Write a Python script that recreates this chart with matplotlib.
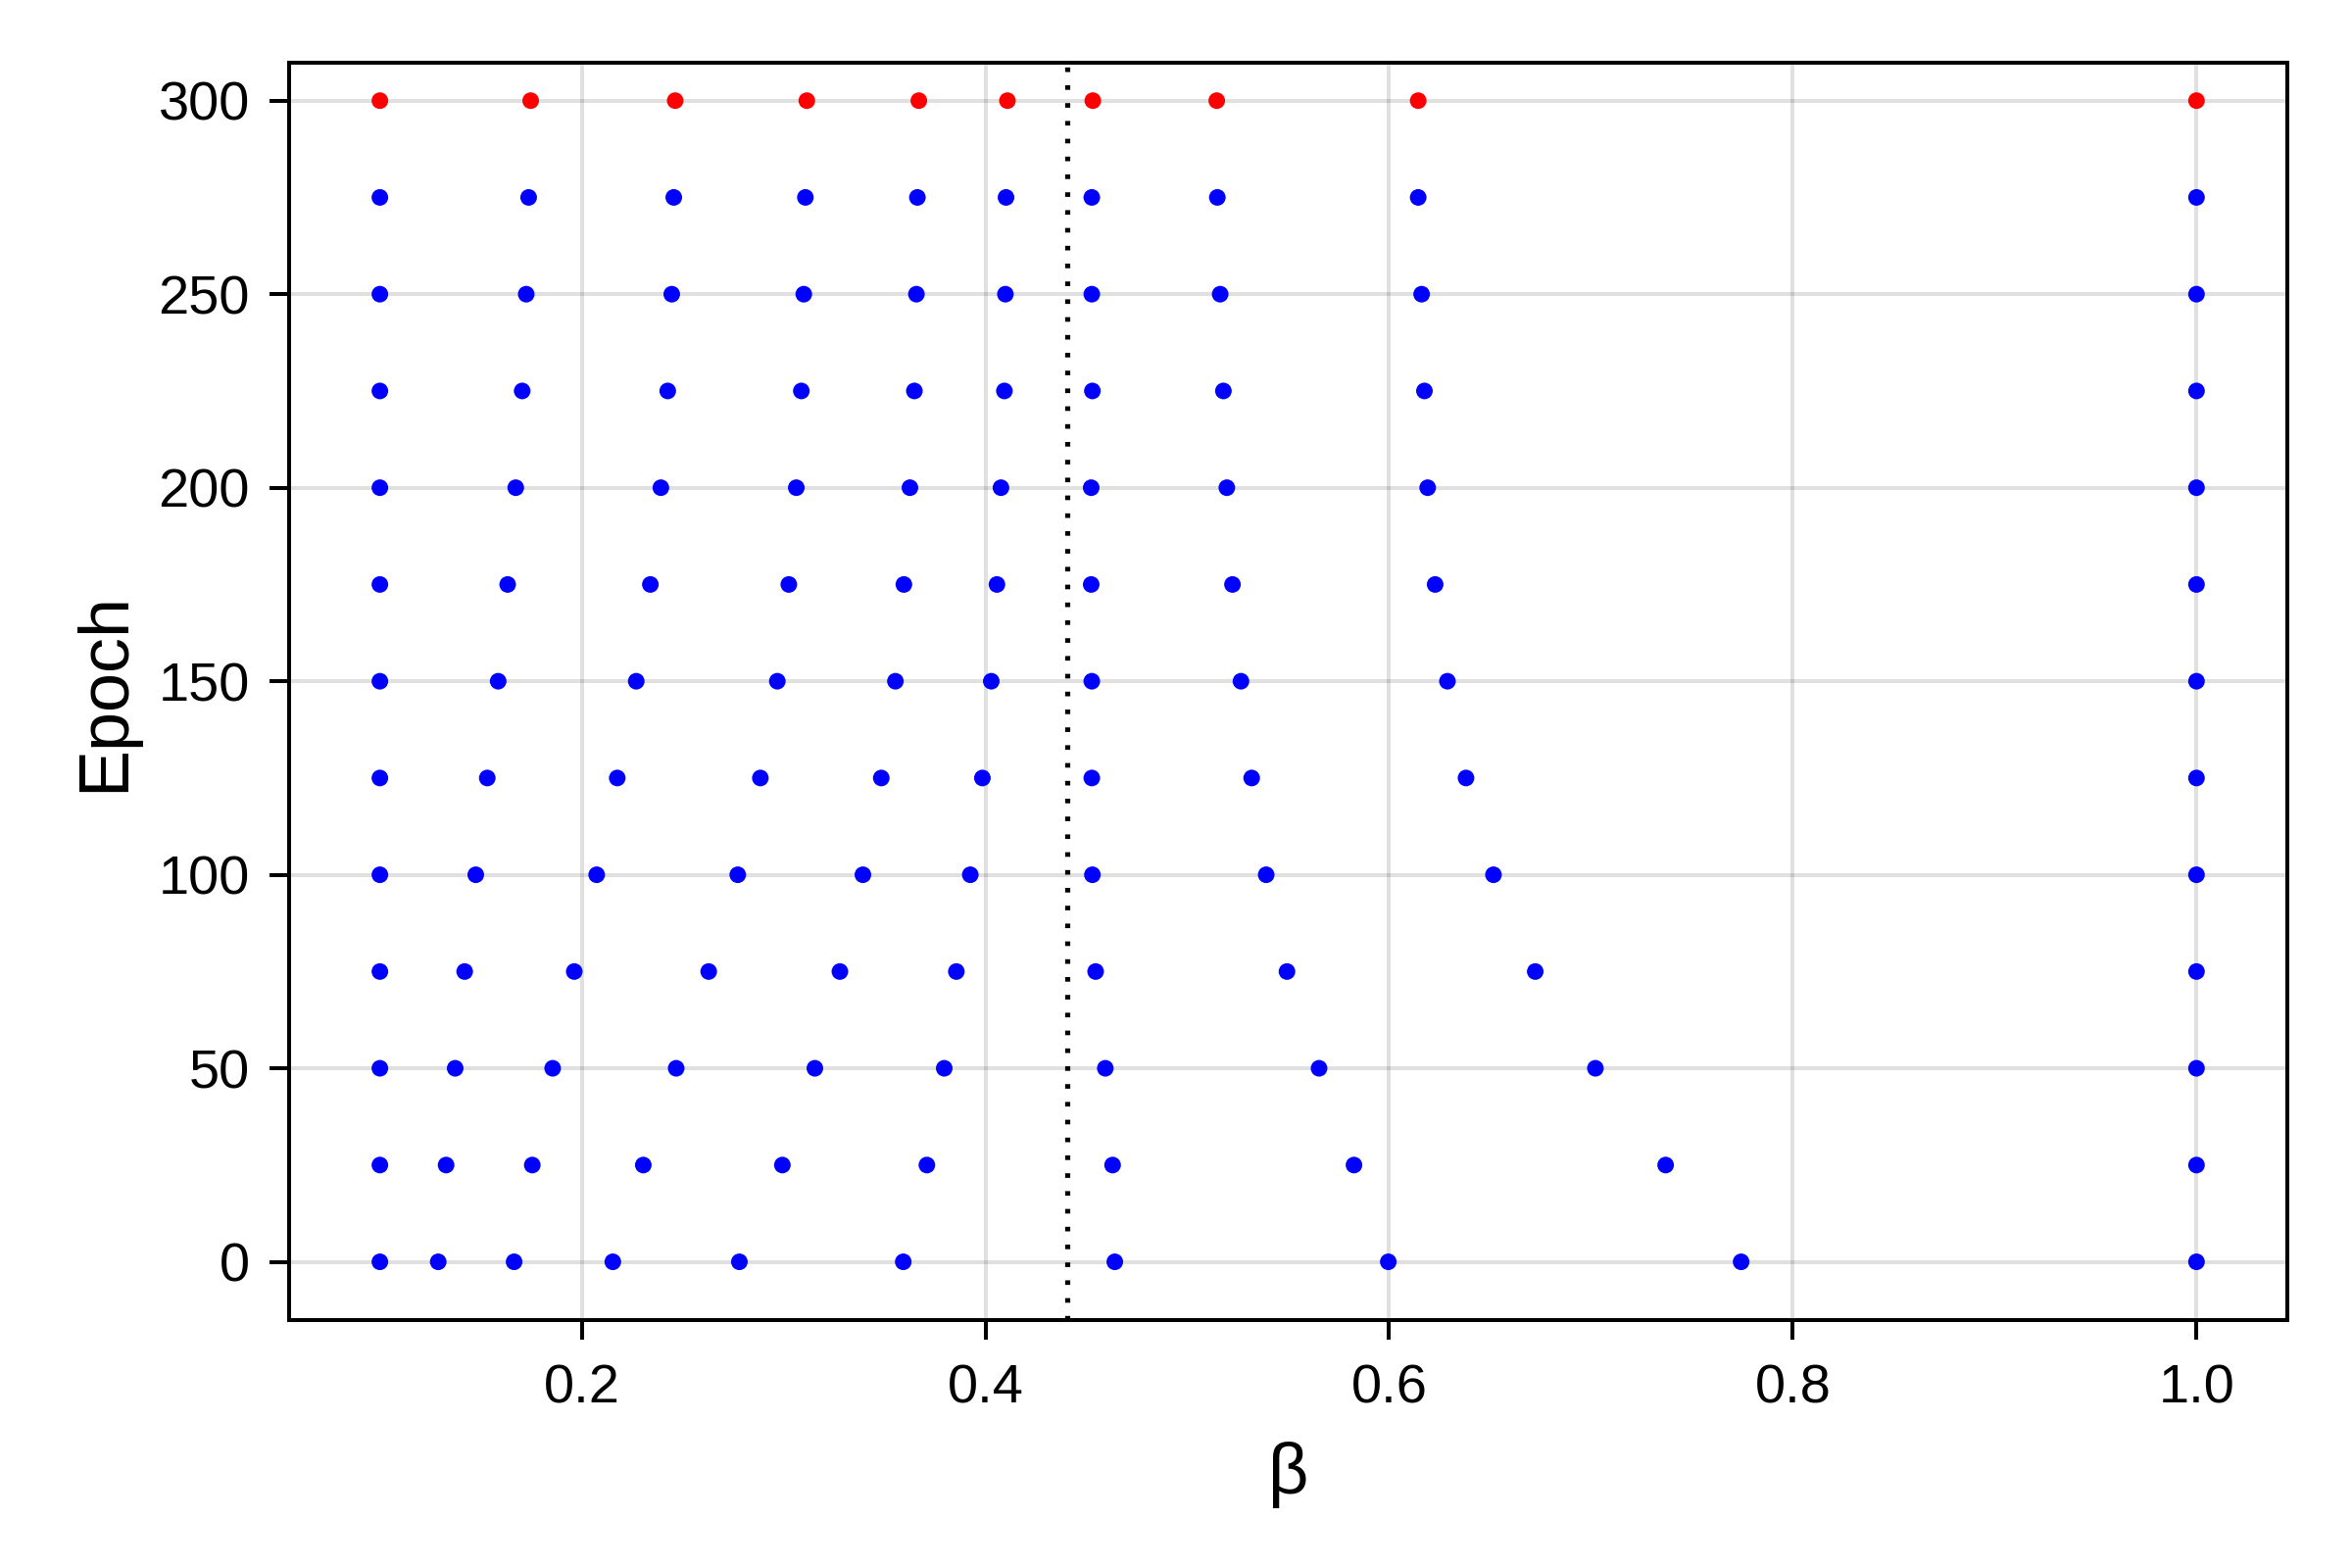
import matplotlib
matplotlib.use("Agg")
import matplotlib.pyplot as plt
import numpy as np

plt.rcParams['font.family'] = ['Liberation Sans', 'DejaVu Sans']

# epochs at which the betas were recorded
epochs = [0, 25, 50, 75, 100, 125, 150, 175, 200, 225, 250, 275, 300]

# beta trajectory of each replica
chain1 = [0.1] * 13
chain2 = [0.1289, 0.1328, 0.1373, 0.1420, 0.1475, 0.1532, 0.1586, 0.1633, 0.1673, 0.1705, 0.1725, 0.1737, 0.1747]
chain3 = [0.1665, 0.1755, 0.1856, 0.1963, 0.2074, 0.2176, 0.2270, 0.2340, 0.2392, 0.2426, 0.2446, 0.2456, 0.2463]
chain4 = [0.2154, 0.2305, 0.2468, 0.2629, 0.2773, 0.2885, 0.2969, 0.3026, 0.3063, 0.3088, 0.3100, 0.3108, 0.3115]
chain5 = [0.2781, 0.2994, 0.3155, 0.3279, 0.3393, 0.3484, 0.3554, 0.3596, 0.3626, 0.3648, 0.3658, 0.3663, 0.3670]
chain6 = [0.3593, 0.3710, 0.3796, 0.3856, 0.3925, 0.3985, 0.4029, 0.4057, 0.4077, 0.4094, 0.4099, 0.4102, 0.4109]
chain7 = [0.4641, 0.4630, 0.4594, 0.4546, 0.4530, 0.4527, 0.4527, 0.4524, 0.4524, 0.4530, 0.4527, 0.4527, 0.4532]
chain8 = [0.5996, 0.5826, 0.5653, 0.5494, 0.5391, 0.5319, 0.5266, 0.5224, 0.5196, 0.5179, 0.5163, 0.5149, 0.5146]
chain9 = [0.7744, 0.7370, 0.7022, 0.6724, 0.6517, 0.6381, 0.6289, 0.6228, 0.6191, 0.6175, 0.6161, 0.6144, 0.6144]
chain10 = [1.0] * 13

beta_c = 0.4407  # critical beta, dotted line

chains = [chain1, chain2, chain3, chain4, chain5, chain6, chain7, chain8, chain9, chain10]

fig = plt.figure(figsize=(2400 / 288, 1600 / 288), dpi=288)
ax = fig.add_axes([0.1229, 0.158, 0.9725 - 0.1229, 0.96 - 0.158])

ax.grid(True, color='black', alpha=0.12, linewidth=1)
ax.set_axisbelow(True)

ax.axvline(beta_c, color='black', linewidth=1.3, linestyle=(0, (0.9, 2.6)), zorder=2)

for c in chains:
    ax.scatter(c[:-1], epochs[:-1], s=18, color='blue', edgecolors='none', zorder=3)
    ax.scatter(c[-1:], epochs[-1:], s=18, color='red', edgecolors='none', zorder=3)

ax.set_xlim(0.055, 1.045)
ax.set_ylim(-15.1, 309.8)
ax.set_xticks([0.2, 0.4, 0.6, 0.8, 1.0])
ax.set_xticklabels(['0.2', '0.4', '0.6', '0.8', '1.0'])
ax.set_yticks(np.arange(0, 301, 50))

for s in ax.spines.values():
    s.set_linewidth(1)
ax.tick_params(labelsize=14, length=5, width=1)
ax.tick_params(axis='x', pad=6)
ax.tick_params(axis='y', pad=5)

ax.set_xlabel('β', fontsize=18, labelpad=7)
ax.set_ylabel('Epoch', fontsize=18, labelpad=5)

fig.savefig('out.png', dpi=288)
